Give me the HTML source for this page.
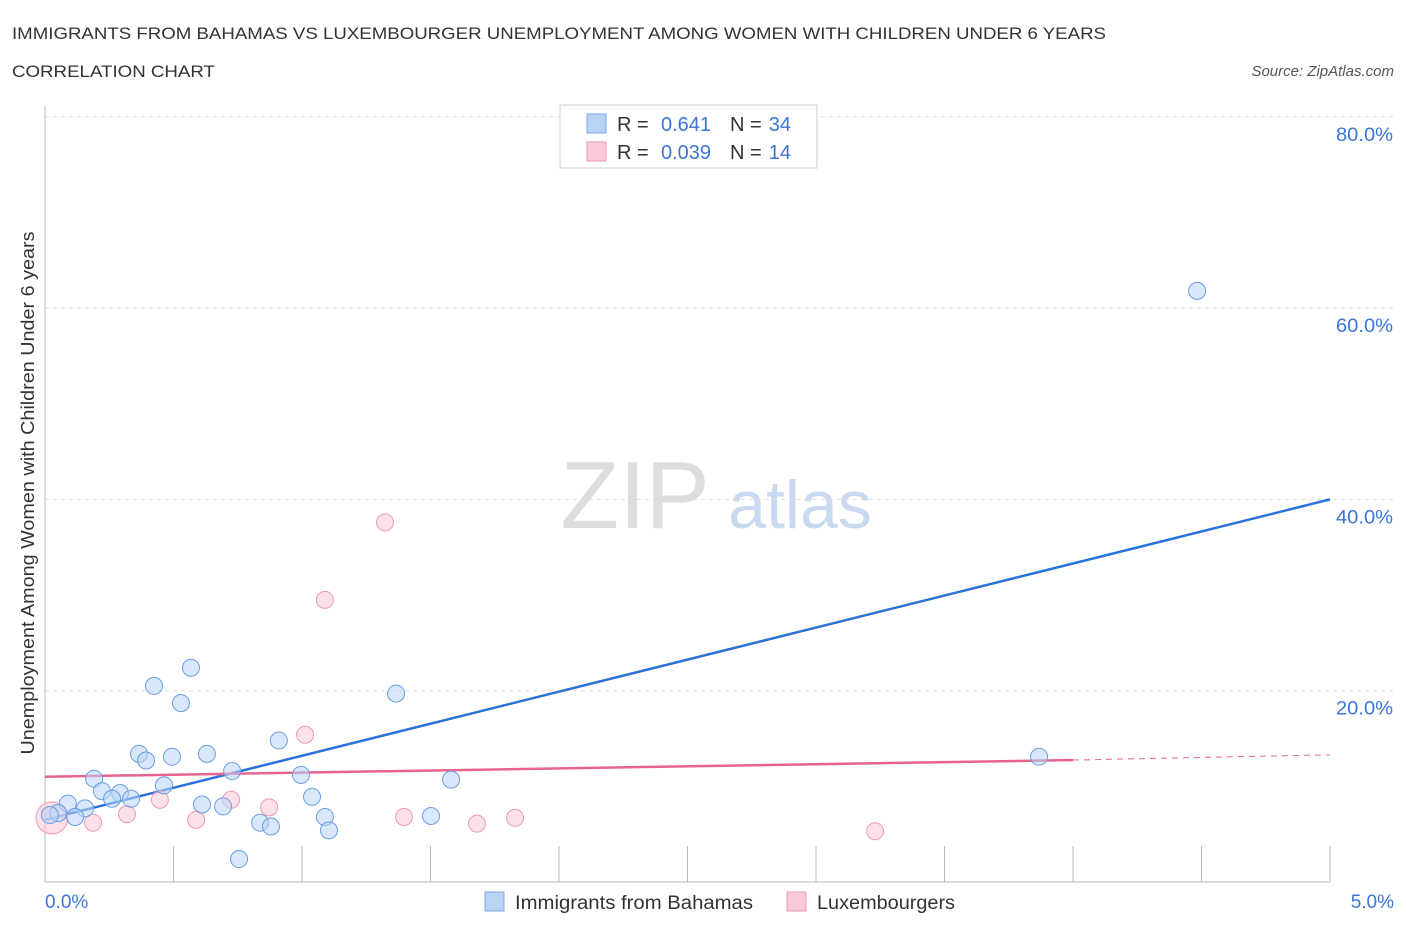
<!DOCTYPE html>
<html><head><meta charset="utf-8"><style>
body{margin:0;background:#fff;font-family:"Liberation Sans",sans-serif;}
svg text{font-family:"Liberation Sans",sans-serif;}
</style></head><body>
<svg id="chart" width="1406" height="930">
<text x="12" y="39" font-size="17" fill="#333" textLength="1094" lengthAdjust="spacingAndGlyphs">IMMIGRANTS FROM BAHAMAS VS LUXEMBOURGER UNEMPLOYMENT AMONG WOMEN WITH CHILDREN UNDER 6 YEARS</text>
<text x="12" y="77" font-size="17" fill="#333" textLength="203" lengthAdjust="spacingAndGlyphs">CORRELATION CHART</text>
<text x="1394" y="76" font-size="15" fill="#555" font-style="italic" text-anchor="end">Source: ZipAtlas.com</text>
<text x="635" y="528" font-size="96" fill="#ddd" font-family="Liberation Serif" text-anchor="middle">ZIP</text>
<text x="800" y="528" font-size="68" fill="#c9daf0" text-anchor="middle">atlas</text>
<text transform="translate(34,493) rotate(-90)" font-size="18" fill="#333" text-anchor="middle" textLength="523" lengthAdjust="spacingAndGlyphs">Unemployment Among Women with Children Under 6 years</text>
<g id="grid"></g><g id="axes"></g><g id="lines"></g><g id="dots"></g>
<g>
<rect x="560" y="105" width="257" height="63" fill="#fff" stroke="#ccc"/>
<rect x="587" y="114" width="19" height="19" fill="#b9d3f5" stroke="#7aa7e6"/>
<rect x="587" y="142" width="19" height="19" fill="#f9c9d7" stroke="#ec9ab4"/>
<text x="617" y="131" font-size="20" fill="#333">R =</text>
<text x="711" y="131" font-size="20" fill="#3a76d8" text-anchor="end">0.641</text>
<text x="730" y="131" font-size="20" fill="#333">N =</text>
<text x="791" y="131" font-size="20" fill="#3a76d8" text-anchor="end">34</text>
<text x="617" y="159" font-size="20" fill="#333">R =</text>
<text x="711" y="159" font-size="20" fill="#3a76d8" text-anchor="end">0.039</text>
<text x="730" y="159" font-size="20" fill="#333">N =</text>
<text x="791" y="159" font-size="20" fill="#3a76d8" text-anchor="end">14</text>
</g>
<g>
<rect x="485" y="892" width="19" height="19" fill="#b9d3f5" stroke="#7aa7e6"/>
<text x="515" y="909" font-size="19" fill="#333" textLength="238" lengthAdjust="spacingAndGlyphs">Immigrants from Bahamas</text>
<rect x="787" y="892" width="19" height="19" fill="#f9c9d7" stroke="#ec9ab4"/>
<text x="817" y="909" font-size="19" fill="#333" textLength="138" lengthAdjust="spacingAndGlyphs">Luxembourgers</text>
</g>
</svg>
<script>
const blueX=[0.568,0.424,0.529,1.366,0.910,0.366,0.393,0.494,0.630,0.728,0.996,0.191,1.580,0.463,0.222,0.292,0.261,0.335,1.039,0.089,0.156,0.611,0.693,1.089,1.502,0.117,0.051,0.837,0.879,1.105,0.755,0.019,4.483,3.868];
const blueY=[22.4,20.5,18.7,19.7,14.8,13.4,12.7,13.1,13.4,11.6,11.2,10.8,10.7,10.1,9.5,9.3,8.7,8.7,8.9,8.2,7.7,8.1,7.9,6.8,6.9,6.8,7.2,6.2,5.8,5.4,2.4,7.0,61.8,13.1];
const pinkX=[1.323,1.089,1.012,0.447,0.724,0.872,0.319,0.187,0.588,1.397,1.681,1.829,3.230,0.027];
const pinkY=[37.6,29.5,15.4,8.6,8.6,7.8,7.1,6.2,6.5,6.8,6.1,6.7,5.3,6.7];
const yTicks=[20,40,60,80];
const yTickLabels=["20.0%","40.0%","60.0%","80.0%"];
const blueTrend=[6.5,40.0];
const pinkTrend=[11.0,12.75,13.3];
const pinkSolidEnd=4.0;
const NS="http://www.w3.org/2000/svg";
const sx=v=>45+v/5*1285, sy=v=>882-v/20*191.3;
function mk(p,t,a){const e=document.createElementNS(NS,t);for(const k in a)e.setAttribute(k,a[k]);document.getElementById(p).appendChild(e);return e;}
yTicks.forEach((t,i)=>{
 const g=mk('grid','line',{x1:45,x2:1395,y1:sy(t),y2:sy(t),stroke:'#ddd','stroke-dasharray':'4,4'});
 
 
 const l=mk('grid','text',{x:1393,y:sy(t)+24,'font-size':19,fill:'#3a76d8','text-anchor':'end',textLength:57,lengthAdjust:'spacingAndGlyphs'});l.textContent=yTickLabels[i];
 
 
});
let a=mk('axes','line',{x1:45,x2:45,y1:105,y2:882,stroke:'#bbb'});


a=mk('axes','line',{x1:45,x2:1330,y1:882,y2:882,stroke:'#bbb'});


for(let i=1;i<=10;i++){const x=45+i*128.5;const t=mk('axes','line',{x1:x,x2:x,y1:846,y2:882,stroke:'#bbb'});
 
 }
let t=mk('axes','text',{x:45,y:908,'font-size':19,fill:'#3a76d8'});t.textContent='0.0%';


t=mk('axes','text',{x:1394,y:908,'font-size':19,fill:'#3a76d8','text-anchor':'end'});t.textContent='5.0%';


function dot(x,y,r,fill,stroke,name){const c=mk('dots','circle',{cx:sx(x),cy:sy(y),r:r,fill:fill,stroke:stroke,'fill-opacity':0.55});
 
 }
pinkX.forEach((x,i)=>dot(x,pinkY[i],i===pinkX.length-1?16:8.5,'#f9c9d7','#ec9ab4','luxembourger-point'));
blueX.forEach((x,i)=>dot(x,blueY[i],8.5,'#b9d3f5','#6b9de0','bahamas-point'));
let ln=mk('lines','line',{x1:sx(0),y1:sy(blueTrend[0]),x2:sx(5),y2:sy(blueTrend[1]),stroke:'#2d72d9','stroke-width':2.5});


ln=mk('lines','line',{x1:sx(0),y1:sy(pinkTrend[0]),x2:sx(pinkSolidEnd),y2:sy(pinkTrend[1]),stroke:'#e8648e','stroke-width':2.5});


ln=mk('lines','line',{x1:sx(pinkSolidEnd),y1:sy(pinkTrend[1]),x2:sx(5),y2:sy(pinkTrend[2]),stroke:'#e8648e','stroke-width':1,'stroke-dasharray':'6,5'});


</script>
</body></html>
